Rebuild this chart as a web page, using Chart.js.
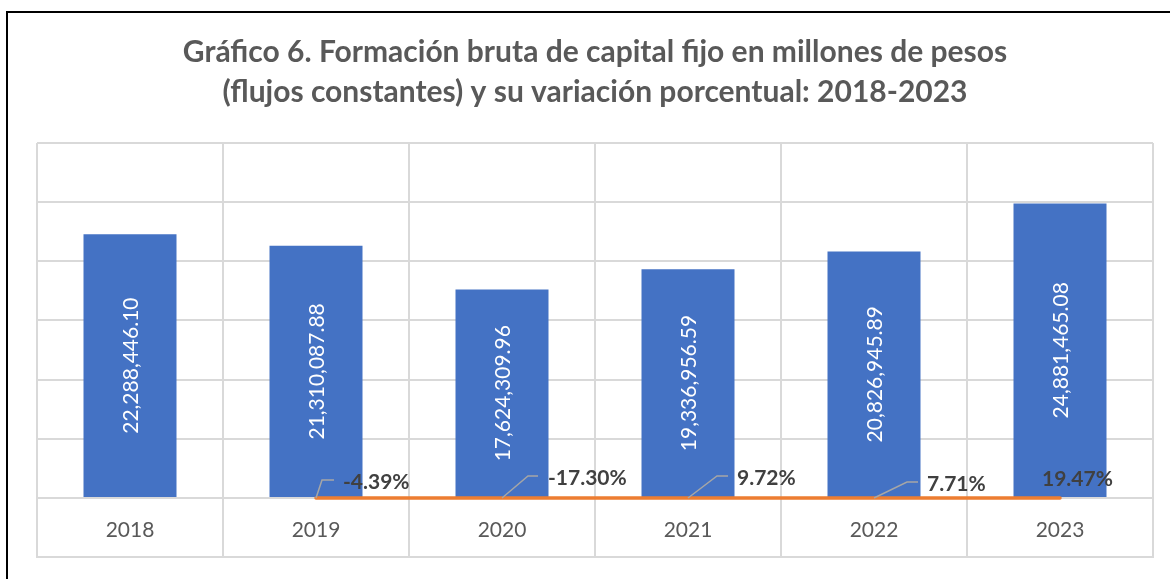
<!DOCTYPE html>
<html>
<head>
<meta charset="utf-8">
<script src="https://cdn.jsdelivr.net/npm/chart.js@4"></script>
<style>
  html, body { margin: 0; padding: 0; background: #ffffff; }
  #wrap { position: relative; width: 1170px; height: 579px; }
</style>
</head>
<body>
<div id="wrap"><canvas id="c" width="1170" height="579"></canvas></div>
<script>
// ---- data ----
const categories = ['2018', '2019', '2020', '2021', '2022', '2023'];
const fbkfValues = [22288446.10, 21310087.88, 17624309.96, 19336956.59, 20826945.89, 24881465.08];
const variationPct = [null, -4.39, -17.30, 9.72, 7.71, 19.47];
const titleLines = ['Gráfico 6. Formación bruta de capital fijo en millones de pesos', '(flujos constantes) y su variación porcentual: 2018-2023'];
const yMax = 30000000;
const yStep = 5000000;

// ---- styling ----
const FONT = 'Lato, "Open Sans", sans-serif';
const pctLabelOffsets = [
  null,
  { leader: [[6, -18], [18, -18]], dx: 27, dy: -16 },
  { leader: [[26, -22], [36, -22]], dx: 46, dy: -20 },
  { leader: [[29, -22], [40, -22]], dx: 49, dy: -20 },
  { leader: [[33, -16], [44, -16]], dx: 53, dy: -14 },
  { leader: null, dx: -18, dy: -19 }
];
const TICK_LEN = 59;

function fmtNum(v) {
  return v.toLocaleString('en-US', { minimumFractionDigits: 2, maximumFractionDigits: 2 });
}
function fmtPct(v) {
  return v.toFixed(2) + '%';
}

const decorPlugin = {
  id: 'decor',
  beforeDraw(chart) {
    const ctx = chart.ctx;
    ctx.save();
    ctx.fillStyle = '#ffffff';
    ctx.fillRect(0, 0, chart.width, chart.height);
    ctx.strokeStyle = '#000000';
    ctx.lineWidth = 2;
    ctx.beginPath();
    ctx.moveTo(7, chart.height);
    ctx.lineTo(7, 12);
    ctx.lineTo(chart.width, 12);
    ctx.stroke();
    ctx.restore();
  },
  afterDraw(chart) {
    const ctx = chart.ctx;
    const a = chart.chartArea;
    const xs = chart.scales.x;
    ctx.save();
    ctx.strokeStyle = '#d9d9d9';
    ctx.lineWidth = 2;
    ctx.beginPath();
    ctx.moveTo(a.left - 1, a.bottom + TICK_LEN);
    ctx.lineTo(a.right + 1, a.bottom + TICK_LEN);
    ctx.stroke();
    // category labels, centred in the tick band
    ctx.fillStyle = '#595959';
    ctx.font = '21px ' + FONT;
    ctx.textAlign = 'center';
    ctx.textBaseline = 'middle';
    categories.forEach((c, i) => {
      ctx.fillText(c, xs.getPixelForValue(i), a.bottom + 32);
    });
    ctx.restore();
  },
  afterDatasetsDraw(chart) {
    const ctx = chart.ctx;
    ctx.save();
    // bar value labels (rotated)
    const barMeta = chart.getDatasetMeta(0);
    ctx.fillStyle = '#ffffff';
    ctx.font = '21px ' + FONT;
    ctx.textAlign = 'center';
    ctx.textBaseline = 'middle';
    barMeta.data.forEach((bar, i) => {
      const cy = (bar.y + bar.base) / 2;
      ctx.save();
      ctx.translate(bar.x, cy);
      ctx.rotate(-Math.PI / 2);
      ctx.fillText(fmtNum(fbkfValues[i]), 0, 1);
      ctx.restore();
    });
    // pct labels with leader lines
    const lineMeta = chart.getDatasetMeta(1);
    lineMeta.data.forEach((pt, i) => {
      const v = variationPct[i];
      const o = pctLabelOffsets[i];
      if (v === null || !o) return;
      if (o.leader) {
        ctx.strokeStyle = '#a6a6a6';
        ctx.lineWidth = 1.5;
        ctx.beginPath();
        ctx.moveTo(pt.x, pt.y);
        o.leader.forEach(p => ctx.lineTo(pt.x + p[0], pt.y + p[1]));
        ctx.stroke();
      }
      ctx.fillStyle = '#404040';
      ctx.font = 'bold 21px ' + FONT;
      ctx.textAlign = 'left';
      ctx.textBaseline = 'middle';
      ctx.fillText(fmtPct(v), pt.x + o.dx, pt.y + o.dy);
    });
    ctx.restore();
  }
};

new Chart(document.getElementById('c'), {
  data: {
    labels: categories,
    datasets: [
      {
        type: 'bar',
        label: 'FBKF',
        data: fbkfValues,
        backgroundColor: '#4472C4',
        barPercentage: 0.5,
        categoryPercentage: 1.0,
        order: 2
      },
      {
        type: 'line',
        label: 'Variación %',
        data: variationPct,
        borderColor: '#ED7D31',
        borderWidth: 3.5,
        borderCapStyle: 'round',
        pointRadius: 0,
        fill: false,
        spanGaps: false,
        clip: false,
        order: 1
      }
    ]
  },
  options: {
    responsive: false,
    animation: false,
    devicePixelRatio: 1,
    layout: { padding: { left: 37, right: 17, top: 0, bottom: 22 } },
    plugins: {
      legend: { display: false },
      tooltip: { enabled: false },
      title: {
        display: true,
        text: titleLines,
        color: '#595959',
        font: { family: FONT, size: 30, weight: 'bold', lineHeight: 1.333 },
        padding: { top: 32, bottom: 31 }
      }
    },
    scales: {
      x: {
        offset: true,
        grid: {
          offset: true,
          color: '#d9d9d9',
          lineWidth: 2,
          drawTicks: true,
          tickLength: TICK_LEN,
          tickColor: '#d9d9d9'
        },
        border: { display: true, color: '#d9d9d9', width: 2 },
        ticks: { display: false }
      },
      y: {
        min: 0,
        max: yMax,
        ticks: { display: false, stepSize: yStep },
        grid: { color: '#d9d9d9', lineWidth: 2, drawTicks: false },
        border: { display: false }
      }
    }
  },
  plugins: [decorPlugin]
});
</script>
</body>
</html>
